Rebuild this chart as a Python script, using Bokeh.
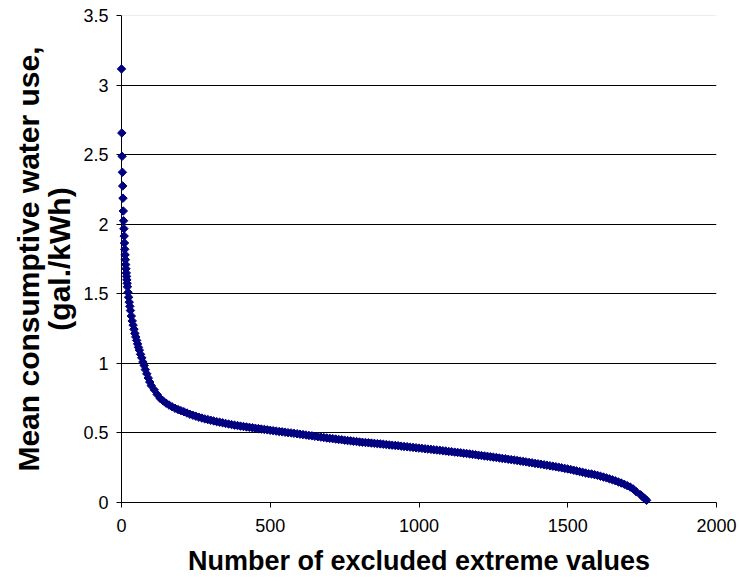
from bokeh.plotting import figure
from bokeh.models import Range1d, FixedTicker, Span
from bokeh.embed import file_html
from bokeh.resources import INLINE
import numpy as np

# ---- data ----
excluded_steep = [0, 1, 2, 3, 4, 5, 6, 7, 8, 9, 10, 11, 12, 13, 14, 15, 16, 17, 18, 19, 20,
                  22, 24, 26, 28, 30, 33, 36, 39, 42, 45, 48, 51, 54, 57, 60, 64, 68, 72,
                  76, 80, 85, 90, 95]
mean_use_steep = [3.116, 2.656, 2.488, 2.373, 2.275, 2.187, 2.095, 2.025, 1.968, 1.915, 1.865,
                  1.820, 1.780, 1.745, 1.710, 1.680, 1.650, 1.625, 1.600, 1.575, 1.550,
                  1.510, 1.475, 1.440, 1.410, 1.380, 1.340, 1.305, 1.275, 1.245, 1.215,
                  1.190, 1.165, 1.140, 1.115, 1.095, 1.065, 1.040, 1.010, 0.985, 0.955,
                  0.925, 0.895, 0.866]

excluded_flat = list(range(100, 1740, 10)) + [1745, 1750, 1755, 1760, 1765]
mean_use_flat = [
    0.840, 0.810, 0.776, 0.748, 0.730, 0.714, 0.700, 0.688, 0.677, 0.668,   # 100-190
    0.660, 0.652, 0.643, 0.634, 0.627, 0.620, 0.613, 0.607, 0.601, 0.596,   # 200-290
    0.591, 0.586, 0.581, 0.577, 0.573, 0.568, 0.564, 0.560, 0.556, 0.553,   # 300-390
    0.549, 0.546, 0.543, 0.540, 0.537, 0.534, 0.531, 0.528, 0.525, 0.522,   # 400-490
    0.519, 0.516, 0.513, 0.510, 0.508, 0.505, 0.502, 0.500, 0.497, 0.494,   # 500-590
    0.491, 0.488, 0.485, 0.482, 0.479, 0.476, 0.473, 0.470, 0.467, 0.464,   # 600-690
    0.461, 0.459, 0.456, 0.453, 0.451, 0.448, 0.445, 0.443, 0.440, 0.438,   # 700-790
    0.435, 0.433, 0.431, 0.429, 0.427, 0.425, 0.423, 0.421, 0.419, 0.416,   # 800-890
    0.414, 0.412, 0.410, 0.408, 0.405, 0.403, 0.401, 0.398, 0.396, 0.393,   # 900-990
    0.391, 0.389, 0.386, 0.384, 0.382, 0.379, 0.377, 0.375, 0.372, 0.370,   # 1000-1090
    0.367, 0.365, 0.362, 0.360, 0.357, 0.354, 0.352, 0.349, 0.346, 0.343,   # 1100-1190
    0.340, 0.337, 0.334, 0.332, 0.329, 0.326, 0.323, 0.320, 0.317, 0.314,   # 1200-1290
    0.311, 0.308, 0.305, 0.302, 0.298, 0.295, 0.292, 0.288, 0.285, 0.281,   # 1300-1390
    0.278, 0.275, 0.271, 0.268, 0.264, 0.261, 0.257, 0.253, 0.249, 0.245,   # 1400-1490
    0.241, 0.237, 0.232, 0.227, 0.222, 0.217, 0.212, 0.207, 0.205, 0.200,   # 1500-1590
    0.195, 0.189, 0.183, 0.177, 0.170, 0.163, 0.156, 0.148, 0.140, 0.131,   # 1600-1690
    0.121, 0.111, 0.097, 0.078,                                             # 1700-1730
    0.055, 0.045, 0.035, 0.026, 0.016, 0.007]                               # 1740-1765

x_ticks = [0, 500, 1000, 1500, 2000]
x_tick_labels = ["0", "500", "1000", "1500", "2000"]
y_ticks = [0, 0.5, 1, 1.5, 2, 2.5, 3, 3.5]
y_tick_labels = ["0", "0.5", "1", "1.5", "2", "2.5", "3", "3.5"]
x_title = "Number of excluded extreme values"
y_title = "Mean consumptive water use,\n(gal./kWh)"

xs = excluded_steep + excluded_flat
ys = mean_use_steep + mean_use_flat

FONT = "Liberation Sans"

p = figure(width=739, height=583, output_backend="svg", toolbar_location=None,
           x_range=Range1d(0, 2000), y_range=Range1d(0, 3.5),
           min_border_left=121, min_border_right=23, min_border_top=15,
           min_border_bottom=81)
p.outline_line_color = None
p.background_fill_color = "white"
p.border_fill_color = "white"

p.xgrid.visible = False
p.ygrid.ticker = FixedTicker(ticks=[0.5, 1, 1.5, 2, 2.5, 3])
p.ygrid.grid_line_color = "#000000"
p.ygrid.grid_line_width = 1

p.add_layout(Span(location=3.5, dimension="width", line_color="#dcdcdc", line_width=1))

for ax, ticks, labels in ((p.xaxis, x_ticks, x_tick_labels), (p.yaxis, y_ticks, y_tick_labels)):
    ax.ticker = FixedTicker(ticks=ticks)
    ax.major_label_overrides = {t: l for t, l in zip(ticks, labels)}
    ax.minor_tick_line_color = None
    ax.major_tick_in = 0
    ax.major_tick_out = 5
    ax.axis_line_color = "black"
    ax.major_tick_line_color = "black"
    ax.major_label_text_font = FONT
    ax.major_label_text_font_size = "18px"
    ax.major_label_text_color = "black"
    ax.axis_label_text_font = FONT
    ax.axis_label_text_font_style = "bold"
    ax.axis_label_text_color = "black"

p.xaxis.major_label_standoff = 11
p.yaxis.major_label_standoff = 8

p.xaxis.axis_label = x_title
p.xaxis.axis_label_text_font_size = "27px"
p.xaxis.axis_label_standoff = 11
p.yaxis.axis_label = y_title
p.yaxis.axis_label_text_font_size = "30px"
p.yaxis.axis_label_text_line_height = 0.95
p.yaxis.axis_label_standoff = 4

r = p.scatter(xs, ys, marker="square", size=6, angle=np.pi / 4,
              fill_color="#000080", line_color="#000080", line_width=1)
r.level = "overlay"

open("out.html", "w").write(file_html(p, INLINE))
